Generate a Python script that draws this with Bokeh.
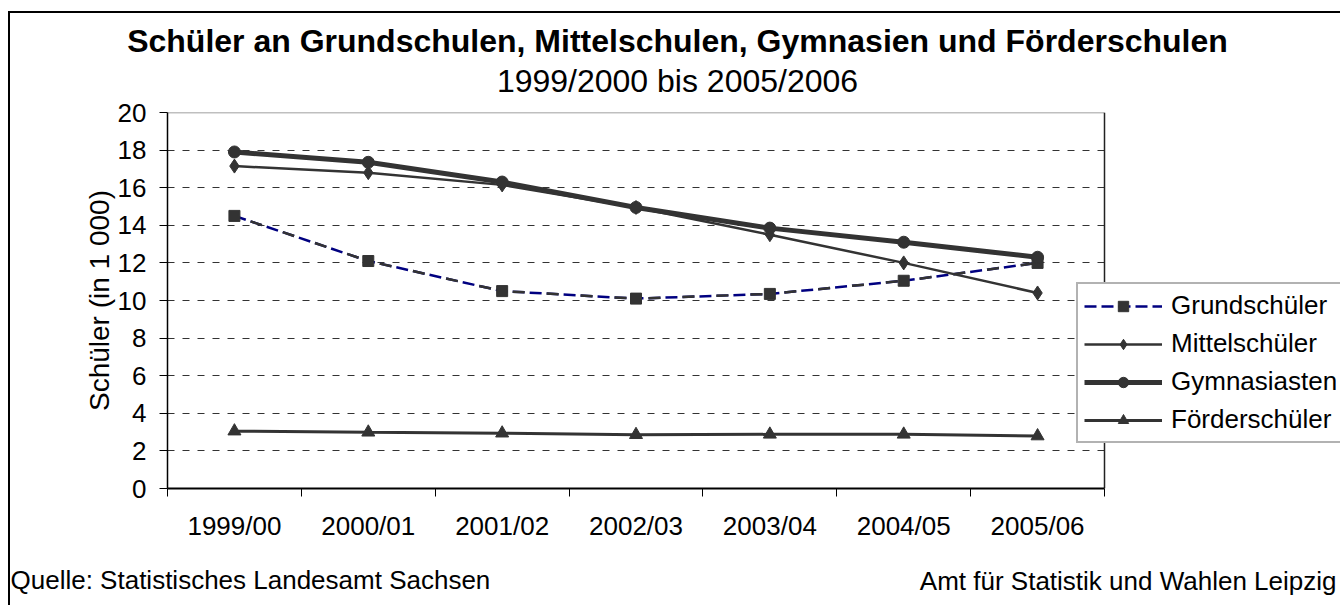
from bokeh.plotting import figure
from bokeh.models import (Range1d, FixedTicker, Legend, LegendItem, Label,
                          BoxAnnotation, ColumnDataSource)
from bokeh.embed import file_html
from bokeh.resources import INLINE

# ---------------- data ----------------
categories = ["1999/00", "2000/01", "2001/02", "2002/03", "2003/04", "2004/05", "2005/06"]
grundschueler = [14.5, 12.1, 10.5, 10.1, 10.35, 11.05, 12.0]
mittelschueler = [17.15, 16.8, 16.15, 14.95, 13.5, 12.0, 10.4]
gymnasiasten = [17.9, 17.35, 16.3, 14.95, 13.85, 13.1, 12.3]
foerderschueler = [3.05, 2.99, 2.94, 2.86, 2.88, 2.88, 2.79]
y_ticks = [0, 2, 4, 6, 8, 10, 12, 14, 16, 18, 20]

title_text = "Schüler an Grundschulen, Mittelschulen, Gymnasien und Förderschulen"
subtitle_text = "1999/2000 bis 2005/2006"
y_label = "Schüler (in 1 000)"
source_text = "Quelle: Statistisches Landesamt Sachsen"
credit_text = "Amt für Statistik und Wahlen Leipzig"

FONT = "Liberation Sans"
DARK = "#333333"

# ---------------- layout (pixels) ----------------
W, H = 1340, 605
AREA_L, AREA_R, AREA_T, AREA_B = 167, 1104, 112, 488   # plot area of the chart
TITLE_CX = 677                                         # centre of the title block
n = len(categories)
x_lo = -0.5
x_hi = n - 0.5
cat_px = (AREA_R - AREA_L) / n
x_frame_end = x_hi + (W - AREA_R) / cat_px   # frame runs to the canvas edge (legend area)

xs = list(range(n))
src = ColumnDataSource(dict(x=xs, grund=grundschueler, mittel=mittelschueler,
                            gym=gymnasiasten, foerder=foerderschueler))

p = figure(width=W, height=H, output_backend="svg", toolbar_location=None,
           x_range=Range1d(x_lo, x_frame_end),
           y_range=Range1d(y_ticks[0], y_ticks[-1]),
           min_border_left=AREA_L, min_border_right=0, min_border_bottom=H - AREA_B,
           min_border_top=AREA_T, background_fill_color="white", border_fill_color=None)

# outer chart frame (drawn as page styling behind the transparent canvas border)
p.styles = {
    "background-color": "white",
    "background-image": "linear-gradient(#000, #000), linear-gradient(#000, #000)",
    "background-size": "2px 100%, 100% 2px",
    "background-position": "8px 11px, 8px 11px",
    "background-repeat": "no-repeat",
}

p.outline_line_color = None

# grid
p.xgrid.visible = False
p.ygrid.ticker = FixedTicker(ticks=y_ticks)
p.ygrid.grid_line_color = DARK
p.ygrid.grid_line_dash = "7 8"
p.ygrid.grid_line_width = 1

# white cover for the grid right of the plot area (legend zone)
p.add_layout(BoxAnnotation(left=x_hi, fill_color="white", fill_alpha=1,
                           line_color=None, level="underlay"))

# plot-area border (top and right)
p.segment(x0=[x_lo], y0=[y_ticks[-1]], x1=[x_hi], y1=[y_ticks[-1]],
          line_color="#808080", line_width=1.5)
p.segment(x0=[x_hi], y0=[y_ticks[0]], x1=[x_hi], y1=[y_ticks[-1]],
          line_color="#222222", line_width=1.5)

# y axis
p.yaxis.ticker = FixedTicker(ticks=y_ticks)
p.yaxis.axis_label = y_label
p.yaxis.axis_label_text_font = FONT
p.yaxis.axis_label_text_font_size = "28px"
p.yaxis.axis_label_text_font_style = "normal"
p.yaxis.axis_label_text_color = "black"
p.yaxis.axis_label_standoff = 0
p.yaxis.major_label_text_font = FONT
p.yaxis.major_label_text_font_size = "26px"
p.yaxis.major_label_text_color = "black"
p.yaxis.major_label_standoff = 13
p.yaxis.major_tick_out = 8
p.yaxis.major_tick_in = 0
p.yaxis.major_tick_line_color = "black"
p.yaxis.axis_line_color = "black"
p.yaxis.axis_line_width = 1.5

# x axis: labels at the centres, tick marks between the categories
p.xaxis.bounds = (x_lo, x_hi)
p.xaxis.ticker = FixedTicker(ticks=xs, minor_ticks=[i - 0.5 for i in range(n + 1)])
p.xaxis.major_label_overrides = {i: c for i, c in enumerate(categories)}
p.xaxis.major_label_text_font = FONT
p.xaxis.major_label_text_font_size = "26px"
p.xaxis.major_label_text_color = "black"
p.xaxis.major_label_standoff = 14
p.xaxis.major_tick_line_color = None
p.xaxis.major_tick_out = 8
p.xaxis.major_tick_in = 0
p.xaxis.minor_tick_out = 8
p.xaxis.minor_tick_in = 0
p.xaxis.minor_tick_line_color = "black"
p.xaxis.axis_line_color = "black"
p.xaxis.axis_line_width = 2

# series
r_f_line = p.line("x", "foerder", source=src, line_color=DARK, line_width=3)
r_f_mark = p.scatter("x", "foerder", source=src, marker="triangle", size=13,
                     fill_color=DARK, line_color=DARK)

r_g_line = p.line("x", "grund", source=src, line_color="#000080", line_width=2.5, line_dash="12 5")
p.line("x", "grund", source=src, line_color=DARK, line_width=2.5, line_dash="12 22",
       line_dash_offset=17)
r_g_mark = p.scatter("x", "grund", source=src, marker="square", size=11,
                     fill_color=DARK, line_color=DARK)

r_m_line = p.line("x", "mittel", source=src, line_color=DARK, line_width=2.5)
r_m_mark = p.scatter("x", "mittel", source=src, marker="diamond", size=14,
                     fill_color=DARK, line_color=DARK)

r_y_line = p.line("x", "gym", source=src, line_color=DARK, line_width=5)
r_y_mark = p.scatter("x", "gym", source=src, marker="circle", size=12,
                     fill_color=DARK, line_color=DARK)

legend = Legend(items=[
    LegendItem(label="Grundschüler", renderers=[r_g_line, r_g_mark]),
    LegendItem(label="Mittelschüler", renderers=[r_m_line, r_m_mark]),
    LegendItem(label="Gymnasiasten", renderers=[r_y_line, r_y_mark]),
    LegendItem(label="Förderschüler", renderers=[r_f_line, r_f_mark]),
], location=(1076 - AREA_L, AREA_B - 443), orientation="vertical")
legend.label_text_font = FONT
legend.label_text_font_size = "26px"
legend.label_text_color = "black"
legend.glyph_width = 78
legend.glyph_height = 26
legend.label_height = 26
legend.label_standoff = 9
legend.spacing = 7
legend.padding = 6
legend.margin = 0
legend.border_line_color = "#666666"
legend.border_line_width = 2
legend.background_fill_color = "white"
legend.background_fill_alpha = 1
p.add_layout(legend, "center")

# titles (texts placed in the panel above the plot)
p.add_layout(Label(x=TITLE_CX - AREA_L, y=32, x_units="screen", y_units="screen",
                   text=subtitle_text, text_font=FONT, text_font_size="32px",
                   text_color="black", text_baseline="middle", text_align="center"), "above")
p.add_layout(Label(x=TITLE_CX - AREA_L, y=36, x_units="screen", y_units="screen",
                   text=title_text, text_font=FONT, text_font_size="32px",
                   text_font_style="bold", text_color="black",
                   text_baseline="middle", text_align="center"), "above")

# footer texts
p.add_layout(Label(x=-157, y=-6, x_units="screen", y_units="screen", text=source_text,
                   text_font=FONT, text_font_size="26px", text_color="black",
                   text_baseline="middle", text_align="left"), "below")
p.add_layout(Label(x=1169, y=23, x_units="screen", y_units="screen", text=credit_text,
                   text_font=FONT, text_font_size="26px", text_color="black",
                   text_baseline="middle", text_align="right"), "below")

open("out.html", "w").write(file_html(p, INLINE))
